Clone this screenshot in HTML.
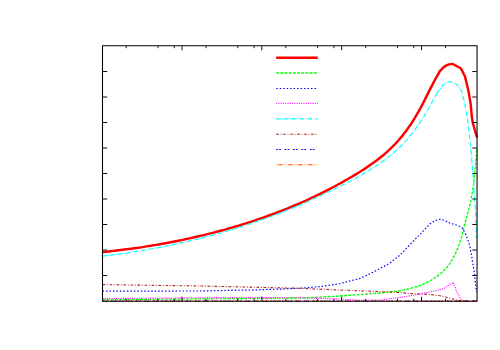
<!DOCTYPE html><html><head><meta charset="utf-8"><style>html,body{margin:0;padding:0;background:#fff;font-family:"Liberation Sans",sans-serif}svg{display:block}</style></head><body>
<svg width="500" height="350" viewBox="0 0 500 350">
<rect width="500" height="350" fill="#fff"/>
<g fill="none" stroke-linejoin="round">
<polyline points="102.5,252.1 106.5,251.7 110.5,251.2 114.5,250.8 118.5,250.3 122.5,249.8 126.5,249.3 130.5,248.8 134.5,248.2 138.5,247.7 142.5,247.1 146.5,246.4 150.5,245.8 154.5,245.1 158.5,244.5 162.5,243.7 166.5,243.0 170.5,242.3 174.5,241.5 178.5,240.7 182.5,239.9 186.5,239.0 190.5,238.1 194.5,237.2 198.5,236.3 202.5,235.4 206.5,234.4 210.5,233.4 214.5,232.4 218.5,231.3 222.5,230.3 226.5,229.1 230.5,228.0 234.5,226.8 238.5,225.7 242.5,224.4 246.5,223.2 250.5,221.9 254.5,220.6 258.5,219.2 262.5,217.8 266.5,216.4 270.5,215.0 274.5,213.5 278.5,212.0 282.5,210.4 286.5,208.8 290.5,207.2 294.5,205.5 298.5,203.8 302.5,202.1 306.5,200.3 310.5,198.4 314.5,196.5 318.5,194.6 322.5,192.6 326.5,190.6 330.5,188.6 334.5,186.5 338.5,184.3 342.5,182.1 346.5,179.8 350.5,177.5 354.5,175.1 358.5,172.7 362.5,170.2 366.5,167.6 370.5,164.8 374.5,162.0 378.5,159.0 382.5,155.8 386.5,152.3 390.5,148.7 394.5,144.7 398.5,140.3 402.5,135.6 406.5,130.4 410.5,124.8 414.5,118.5 418.5,111.7 422.5,104.3 426.5,96.4 430.5,88.4 434.5,80.7 437.8,74.9 440.0,70.8 440.0,71.2 442.5,68.3 445.0,66.2 447.0,65.1 449.0,64.4 451.0,64.1 452.8,64.0 461.0,68.5 465.0,76.5 467.0,85.0 468.0,89.0 469.2,95.0 470.8,105.0 471.6,115.0 472.8,123.0 477.0,137.5" stroke="#f00" stroke-width="2.45"/>
<polyline points="102.5,299.7 215.0,298.8 300.0,298.1" stroke="#0f0" stroke-width="1.15" stroke-dasharray="2.9 1.27"/>
<polyline points="300.0,298.1 320.0,297.1 340.0,296.0 360.0,294.6 380.0,293.0 390.0,292.0 400.0,290.8 410.0,288.6 420.0,285.5 430.0,281.0 440.0,274.3 444.5,270.0 449.0,265.0 454.8,255.0 459.0,245.0 462.2,235.0 464.5,225.0 467.2,215.0 470.0,205.0 471.8,195.0 473.5,185.0 474.3,178.0 475.0,170.0 476.0,160.0 477.0,148.0" stroke="#0f0" stroke-width="1.35" stroke-dasharray="2.85 1.32" stroke-dashoffset="1.6"/>
<polyline points="102.5,291.1 200.0,291.0 250.0,290.0 280.0,289.1 300.0,288.2 320.0,286.6 340.0,283.6 360.0,278.4 370.0,273.8 380.0,268.6 390.0,263.0 400.0,255.0 410.0,244.6 415.0,239.4 420.0,234.5 425.0,229.0 430.0,224.0 435.0,220.6 440.0,219.3 445.0,220.5 450.0,223.2 455.0,224.6 460.0,226.5 462.0,227.8 463.0,229.2 466.3,235.5 468.0,240.0 469.5,245.0 471.5,255.0 473.0,265.0 474.2,272.0 476.4,292.0" stroke="#00f" stroke-width="1.2" stroke-dasharray="1.5 1.98"/>
<polyline points="102.5,298.6 215.0,297.6 300.0,297.7 340.0,299.0 360.0,300.4 380.0,300.0 390.0,298.6 400.0,297.5 410.0,295.8 420.0,294.0 430.0,291.9 437.0,290.5 444.0,288.4 448.5,285.2 453.2,282.4 456.8,292.0 461.8,300.6" stroke="#f0f" stroke-width="1.1" stroke-dasharray="1.1 1.17"/>
<polyline points="102.5,256.1 106.5,255.6 110.5,255.1 114.5,254.6 118.5,254.1 122.5,253.5 126.5,253.0 130.5,252.4 134.5,251.7 138.5,251.1 142.5,250.4 146.5,249.7 150.5,249.0 154.5,248.3 158.5,247.6 162.5,246.8 166.5,246.0 170.5,245.2 174.5,244.3 178.5,243.5 182.5,242.6 186.5,241.7 190.5,240.7 194.5,239.8 198.5,238.8 202.5,237.8 206.5,236.7 210.5,235.7 214.5,234.6 218.5,233.5 222.5,232.3 226.5,231.2 230.5,230.0 234.5,228.8 238.5,227.5 242.5,226.3 246.5,225.0 250.5,223.6 254.5,222.3 258.5,220.9 262.5,219.5 266.5,218.1 270.5,216.6 274.5,215.1 278.5,213.6 282.5,212.0 286.5,210.5 290.5,208.8 294.5,207.2 298.5,205.5 302.5,203.8 306.5,202.1 310.5,200.3 314.5,198.5 318.5,196.7 322.5,194.8 326.5,192.9 330.5,191.0 334.5,189.0 338.5,187.0 342.5,185.0 346.5,183.0 350.5,180.9 354.5,178.7 358.5,176.5 362.5,174.3 366.5,171.9 370.5,169.5 374.5,167.0 378.5,164.3 382.5,161.5 386.5,158.6 390.5,155.4 394.5,152.0 398.5,148.4 402.5,144.4 406.5,140.1 410.5,135.4 414.5,130.4 418.5,124.8 422.5,118.8 426.5,112.2 430.5,105.0 433.0,100.2 439.0,90.0 436.1,95.0 439.1,90.0 442.6,85.5 446.0,83.0 448.5,82.0 451.0,81.6 454.0,82.6 457.5,85.0 461.0,90.0 464.0,100.0 466.0,110.0 467.5,120.0 470.5,145.0 473.5,180.0 474.3,195.0 475.5,210.0 476.6,238.0" stroke="#0ff" stroke-width="1.2" stroke-dasharray="4.6 1.3 0.6 1.3"/>
<polyline points="102.5,284.6 200.0,286.0 300.0,288.3 340.0,290.0 380.0,291.6 400.0,292.5 410.0,293.5 420.0,294.0 430.0,294.5 440.0,295.8 450.0,298.1 457.0,300.4 477.0,301.0" stroke="#b02222" stroke-width="1.1" stroke-dasharray="2.7 1.7 0.9 1.7"/>
<path d="M102.5 301H477.0" stroke="#00f" stroke-width="1.15" stroke-dasharray="1.7 1.3 1.7 3.7"/>
<path d="M102.5 301H477.0" stroke="#ff4d00" stroke-width="1.05" stroke-dasharray="4.4 1.55 0.55 1.55 0.55 1.4" stroke-dashoffset="8"/>
<path d="M276.2 57.80H317.8" stroke="#f00" stroke-width="2.45"/>
<path d="M276.2 73.00H317.8" stroke="#0f0" stroke-width="1.65" stroke-dasharray="2.9 1.27"/>
<path d="M276.2 88.50H317.8" stroke="#00f" stroke-width="1.2" stroke-dasharray="1.5 1.98"/>
<path d="M276.2 103.45H317.8" stroke="#f0f" stroke-width="1.2" stroke-dasharray="0.95 1.32"/>
<path d="M276.2 118.90H317.8" stroke="#0ff" stroke-width="1.2" stroke-dasharray="4.6 1.3 0.6 1.3"/>
<path d="M276.2 134.25H317.8" stroke="#b02222" stroke-width="1.1" stroke-dasharray="2.7 1.7 0.9 1.7"/>
<path d="M276.2 149.50H317.8" stroke="#00f" stroke-width="1.15" stroke-dasharray="1.7 1.3 1.7 3.7"/>
<path d="M276.2 164.65H317.8" stroke="#ff4d00" stroke-width="1.05" stroke-dasharray="4.4 1.55 0.55 1.55 0.55 1.4" stroke-dashoffset="8"/>
</g>
<g stroke="#000" stroke-width="0.95" fill="none">
<path d="M102.50 45.75H477.00M102.50 301.2H477.00M102.50 45.75V301.2M477.05 45.75V301.2" stroke-width="1.05" stroke-linecap="square"/>
<path d="M102.80 71.50h4.4M476.70 71.50h-4.4M102.80 97.00h4.4M476.70 97.00h-4.4M102.80 122.50h4.4M476.70 122.50h-4.4M102.80 148.00h4.4M476.70 148.00h-4.4M102.80 173.50h4.4M476.70 173.50h-4.4M102.80 199.00h4.4M476.70 199.00h-4.4M102.80 224.50h4.4M476.70 224.50h-4.4M102.80 250.00h4.4M476.70 250.00h-4.4M102.80 275.50h4.4M476.70 275.50h-4.4M126.20 46.2v2.0M126.20 300.8v-2.0M157.97 46.2v2.0M157.97 300.8v-2.0M174.26 46.2v2.0M174.26 300.8v-2.0M182.00 46.2v4.1M182.00 300.8v-4.1M206.03 46.2v2.0M206.03 300.8v-2.0M237.80 46.2v2.0M237.80 300.8v-2.0M254.09 46.2v2.0M254.09 300.8v-2.0M261.83 46.2v4.1M261.83 300.8v-4.1M285.86 46.2v2.0M285.86 300.8v-2.0M317.63 46.2v2.0M317.63 300.8v-2.0M333.92 46.2v2.0M333.92 300.8v-2.0M341.66 46.2v4.1M341.66 300.8v-4.1M365.69 46.2v2.0M365.69 300.8v-2.0M397.46 46.2v2.0M397.46 300.8v-2.0M413.75 46.2v2.0M413.75 300.8v-2.0M421.49 46.2v4.1M421.49 300.8v-4.1M445.52 46.2v2.0M445.52 300.8v-2.0"/>
</g>
</svg></body></html>
